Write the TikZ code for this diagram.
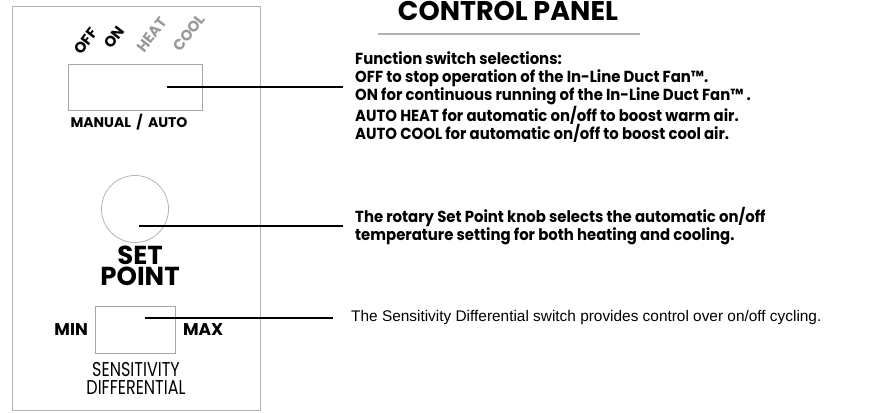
\documentclass[tikz,border=0pt]{standalone}
\usepackage{fontspec}
\setmainfont{Poppins}
\newfontfamily\condfont{Poppins}[FakeStretch=0.93]
\newfontfamily\narrowfont{Poppins}[FakeStretch=0.8]
\newfontfamily\arialfont{Liberation Sans}
\usetikzlibrary{positioning}

\begin{document}
\begin{tikzpicture}[x=1pt, y=-1pt,
    panelbox/.style={draw=black!30, line width=1.2pt},
    swbox/.style={draw=black!35, line width=0.8pt},
    heavy/.style={inner sep=0pt, font=\bfseries\fontsize{#1}{#1}\selectfont},
    lead/.style={line width=1.6pt},
    note/.style={align=left, anchor=west, inner sep=0pt,
      font=\condfont\bfseries\fontsize{16}{18.3}\selectfont}
  ]
  \useasboundingbox (0,0) rectangle (869,412);
  \node[panelbox, minimum width=248, minimum height=404, anchor=north west] (panel) at (12,6) {};

  \node[heavy=15, rotate=52] (off) at (86,41) {OFF};
  \node[heavy=15, rotate=52] (on) at (114,37) {ON};
  \node[heavy=15, rotate=52, text=black!40] (heat) at (152,35) {HEAT};
  \node[heavy=15, rotate=52, text=black!40] (cool) at (189,33) {COOL};

  \node[swbox, minimum width=134, minimum height=46, anchor=north west] (fnsw) at (68,64) {};
  \node[heavy=14] (mode) at (129,122) {MANUAL \,/\, AUTO};

  \node[swbox, circle, draw=black!30, minimum size=67] (knob) at (135,209) {};
  \node[heavy=26, align=center, font=\bfseries\fontsize{26}{21}\selectfont] (setpt) at (140,266) {SET\\POINT};

  \node[swbox, minimum width=80, minimum height=47, anchor=north west] (sens) at (95,306) {};
  \node[heavy=17, left=7 of sens] (min) {MIN};
  \node[heavy=17, right=7 of sens] (max) {MAX};
  \node[inner sep=0pt, align=center, font=\narrowfont\fontsize{20}{18}\selectfont] (senslbl) at (136,378) {SENSITIVITY\\DIFFERENTIAL};

  \node[heavy=27] (title) at (508,11) {CONTROL PANEL};
  \coordinate (rulel) at (378,34);
  \coordinate (ruler) at (640,34);
  \draw[black!30, line width=1.2pt] (rulel) -- (ruler);

  \node[note] (fntext) at (355,97) {Function switch selections:\\
    OFF to stop operation of the In-Line Duct Fan™.\\
    ON for continuous running of the In-Line Duct Fan™ .\\
    AUTO HEAT for automatic on/off to boost warm air.\\
    AUTO COOL for automatic on/off to boost cool air.};
  \node[note] (knobtext) at (355,226) {The rotary Set Point knob selects the automatic on/off\\
    temperature setting for both heating and cooling.};
  \node[note, font=\arialfont\fontsize{15.4}{16}\selectfont] (senstext) at (351,318) {The Sensitivity Differential switch provides control over on/off cycling.};

  \coordinate (fnpt) at (167,87);
  \coordinate (knobpt) at (139,226);
  \coordinate (senspt) at (145,318);
  \draw[lead] (fnpt) -- ([xshift=-12pt]fntext.west |- fnpt);
  \draw[lead] (knobpt) -- ([xshift=-12pt]knobtext.west |- knobpt);
  \draw[lead] (senspt) -- ([xshift=-18pt]senstext.west |- senspt);
\end{tikzpicture}
\end{document}
